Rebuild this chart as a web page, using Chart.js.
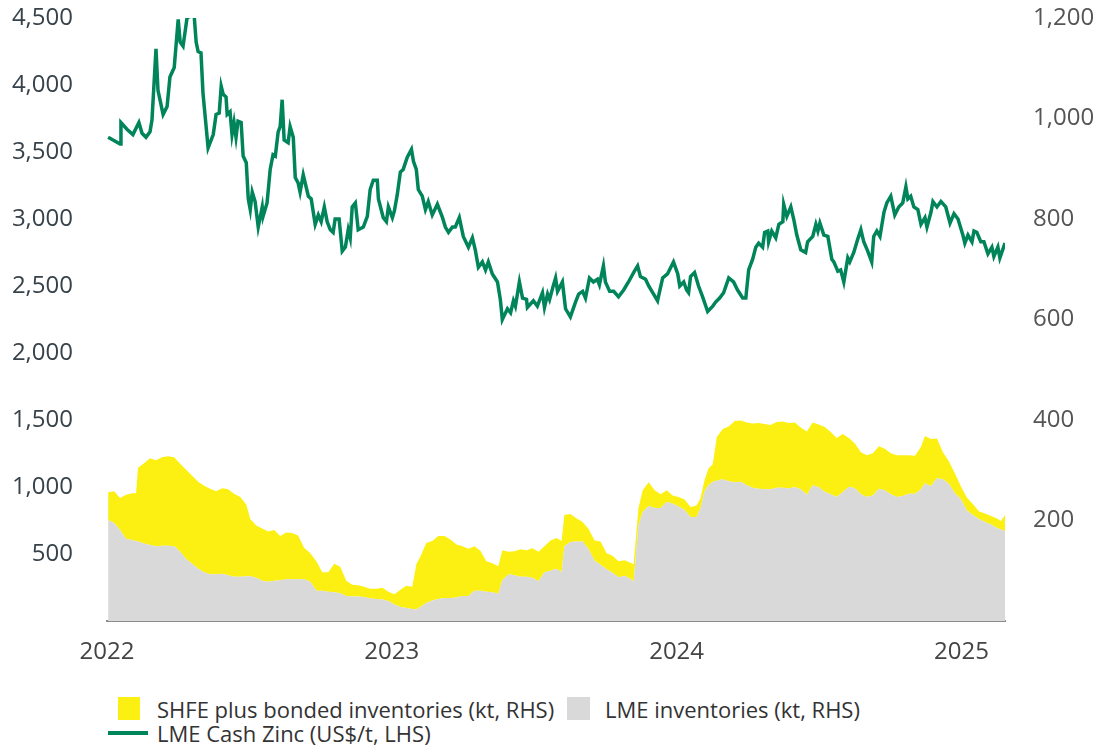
<!DOCTYPE html>
<html>
<head>
<meta charset="utf-8">
<script src="https://cdn.jsdelivr.net/npm/chart.js@4.4.1/dist/chart.umd.min.js"></script>
<style>
  body { margin: 0; background: #fff; font-family: "Open Sans", sans-serif; }
  #wrap { position: relative; width: 1096px; height: 745px; }
  #box { position: absolute; left: 0; top: 0; width: 1096px; height: 690px; }
  .leg { position: absolute; font-size: 22px; color: #333; line-height: 24px; white-space: nowrap; }
  .sw { position: absolute; }
</style>
</head>
<body>
<div id="wrap">
  <div id="box"><canvas id="zinc"></canvas></div>
  <div id="legend"></div>
</div>
<script>
// LME cash zinc, US$/t (left axis); dates as decimal years
const priceDates = [
  2022.004, 2022.046, 2022.049, 2022.070, 2022.091, 2022.112, 2022.123, 2022.137, 2022.151, 2022.158,
  2022.172, 2022.179, 2022.197, 2022.211, 2022.221, 2022.236, 2022.250, 2022.257, 2022.267, 2022.281,
  2022.299, 2022.306, 2022.313, 2022.320, 2022.330, 2022.337, 2022.355, 2022.373, 2022.383, 2022.394,
  2022.401, 2022.408, 2022.418, 2022.422, 2022.432, 2022.439, 2022.446, 2022.453, 2022.460, 2022.471,
  2022.478, 2022.489, 2022.496, 2022.503, 2022.510, 2022.520, 2022.531, 2022.545, 2022.548, 2022.562,
  2022.573, 2022.583, 2022.591, 2022.601, 2022.608, 2022.615, 2022.622, 2022.636, 2022.643, 2022.654,
  2022.661, 2022.671, 2022.678, 2022.689, 2022.707, 2022.717, 2022.731, 2022.742, 2022.752, 2022.763,
  2022.773, 2022.784, 2022.794, 2022.801, 2022.815, 2022.826, 2022.837, 2022.847, 2022.854, 2022.861,
  2022.872, 2022.882, 2022.900, 2022.914, 2022.924, 2022.935, 2022.949, 2022.953, 2022.970, 2022.981,
  2022.988, 2023.002, 2023.009, 2023.019, 2023.030, 2023.040, 2023.054, 2023.069, 2023.076, 2023.086,
  2023.093, 2023.107, 2023.118, 2023.128, 2023.142, 2023.160, 2023.178, 2023.188, 2023.199, 2023.213,
  2023.223, 2023.237, 2023.251, 2023.269, 2023.283, 2023.293, 2023.304, 2023.318, 2023.329, 2023.339,
  2023.353, 2023.371, 2023.381, 2023.388, 2023.406, 2023.417, 2023.427, 2023.434, 2023.448, 2023.459,
  2023.473, 2023.476, 2023.497, 2023.511, 2023.529, 2023.536, 2023.547, 2023.554, 2023.568, 2023.575,
  2023.582, 2023.599, 2023.610, 2023.627, 2023.645, 2023.656, 2023.670, 2023.680, 2023.694, 2023.708,
  2023.722, 2023.729, 2023.743, 2023.750, 2023.765, 2023.779, 2023.796, 2023.814, 2023.831, 2023.849,
  2023.863, 2023.873, 2023.891, 2023.902, 2023.916, 2023.933, 2023.951, 2023.968, 2023.989, 2024.004,
  2024.011, 2024.025, 2024.035, 2024.042, 2024.049, 2024.063, 2024.077, 2024.091, 2024.109, 2024.127,
  2024.137, 2024.151, 2024.165, 2024.183, 2024.200, 2024.214, 2024.232, 2024.243, 2024.253, 2024.267,
  2024.278, 2024.288, 2024.302, 2024.309, 2024.320, 2024.323, 2024.334, 2024.348, 2024.359, 2024.373,
  2024.376, 2024.387, 2024.401, 2024.411, 2024.422, 2024.436, 2024.453, 2024.460, 2024.478, 2024.489,
  2024.496, 2024.503, 2024.517, 2024.531, 2024.545, 2024.552, 2024.566, 2024.576, 2024.587, 2024.601,
  2024.608, 2024.622, 2024.636, 2024.647, 2024.657, 2024.671, 2024.685, 2024.692, 2024.703, 2024.714,
  2024.728, 2024.738, 2024.752, 2024.766, 2024.780, 2024.794, 2024.805, 2024.812, 2024.822, 2024.833,
  2024.847, 2024.858, 2024.872, 2024.879, 2024.893, 2024.900, 2024.914, 2024.928, 2024.945, 2024.960,
  2024.974, 2024.988, 2025.005, 2025.012, 2025.023, 2025.037, 2025.044, 2025.054, 2025.068, 2025.079,
  2025.093, 2025.107, 2025.114, 2025.128, 2025.135, 2025.153
];
const price = [
  3610, 3560, 3720, 3670, 3630, 3720, 3640, 3610, 3650, 3740,
  4270, 3960, 3780, 3840, 4060, 4130, 4490, 4320, 4290, 4500,
  4520, 4520, 4320, 4250, 4240, 3940, 3530, 3630, 3780, 3790,
  3990, 3930, 3910, 3780, 3800, 3630, 3720, 3610, 3730, 3720,
  3470, 3420, 3150, 3070, 3200, 3130, 2940, 3090, 3020, 3120,
  3370, 3480, 3470, 3650, 3690, 3890, 3590, 3570, 3690, 3610,
  3310, 3270, 3200, 3330, 3170, 3150, 2960, 3030, 2980, 3090,
  2980, 2920, 2900, 3000, 3000, 2760, 2790, 2920, 2860, 3090,
  3120, 2920, 2940, 3020, 3220, 3290, 3290, 3150, 3010, 2980,
  3090, 3010, 3060, 3180, 3350, 3370, 3460, 3520, 3430, 3370,
  3220, 3170, 3070, 3130, 3030, 3110, 3010, 2940, 2900, 2940,
  2940, 3010, 2870, 2790, 2860, 2770, 2640, 2680, 2620, 2680,
  2590, 2530, 2400, 2250, 2330, 2300, 2390, 2350, 2530, 2410,
  2400, 2340, 2390, 2350, 2450, 2340, 2440, 2400, 2510, 2560,
  2460, 2530, 2330, 2270, 2380, 2440, 2460, 2410, 2560, 2530,
  2550, 2510, 2650, 2530, 2460, 2460, 2420, 2470, 2530, 2600,
  2650, 2570, 2550, 2500, 2450, 2390, 2560, 2590, 2680, 2590,
  2500, 2530, 2470, 2450, 2570, 2600, 2500, 2420, 2310, 2350,
  2380, 2410, 2450, 2560, 2530, 2470, 2410, 2410, 2620, 2700,
  2790, 2820, 2790, 2900, 2910, 2830, 2910, 2860, 2960, 2980,
  3110, 3020, 3090, 3000, 2880, 2770, 2750, 2830, 2870, 2960,
  2910, 2970, 2880, 2870, 2700, 2680, 2610, 2620, 2530, 2710,
  2680, 2750, 2850, 2920, 2830, 2760, 2680, 2870, 2910, 2870,
  3050, 3120, 3170, 3030, 3090, 3120, 3240, 3150, 3170, 3090,
  3070, 2960, 3010, 2940, 3050, 3130, 3090, 3130, 3090, 2970,
  3040, 3000, 2880, 2820, 2880, 2830, 2910, 2900, 2830, 2830,
  2740, 2790, 2720, 2790, 2710, 2820
];

// inventories, kt (right axis)
const stockDates = [
  2022.004, 2022.025, 2022.046, 2022.067, 2022.088, 2022.102, 2022.109, 2022.130, 2022.151, 2022.172,
  2022.193, 2022.214, 2022.236, 2022.257, 2022.278, 2022.299, 2022.320, 2022.341, 2022.362, 2022.383,
  2022.404, 2022.425, 2022.446, 2022.468, 2022.489, 2022.503, 2022.524, 2022.545, 2022.566, 2022.587,
  2022.608, 2022.629, 2022.650, 2022.671, 2022.692, 2022.714, 2022.735, 2022.756, 2022.777, 2022.798,
  2022.819, 2022.840, 2022.861, 2022.882, 2022.903, 2022.924, 2022.946, 2022.967, 2022.988, 2023.009,
  2023.030, 2023.051, 2023.072, 2023.086, 2023.100, 2023.121, 2023.142, 2023.163, 2023.185, 2023.206,
  2023.227, 2023.248, 2023.269, 2023.290, 2023.311, 2023.332, 2023.353, 2023.374, 2023.388, 2023.410,
  2023.431, 2023.452, 2023.473, 2023.494, 2023.515, 2023.536, 2023.557, 2023.578, 2023.596, 2023.606,
  2023.627, 2023.649, 2023.670, 2023.691, 2023.712, 2023.733, 2023.754, 2023.775, 2023.796, 2023.817,
  2023.838, 2023.849, 2023.866, 2023.881, 2023.902, 2023.923, 2023.944, 2023.965, 2023.986, 2024.007,
  2024.028, 2024.049, 2024.070, 2024.084, 2024.098, 2024.112, 2024.127, 2024.141, 2024.162, 2024.183,
  2024.204, 2024.225, 2024.246, 2024.267, 2024.288, 2024.309, 2024.330, 2024.351, 2024.373, 2024.394,
  2024.415, 2024.436, 2024.457, 2024.478, 2024.499, 2024.520, 2024.541, 2024.562, 2024.583, 2024.605,
  2024.626, 2024.647, 2024.668, 2024.689, 2024.710, 2024.731, 2024.752, 2024.773, 2024.794, 2024.816,
  2024.837, 2024.858, 2024.872, 2024.893, 2024.914, 2024.935, 2024.956, 2024.977, 2024.998, 2025.019,
  2025.040, 2025.062, 2025.083, 2025.104, 2025.125, 2025.139, 2025.153
];
const lmeStocks = [
  201, 195, 181, 163, 161, 159, 158, 154, 151, 149,
  150, 150, 149, 138, 123, 114, 104, 97, 93, 93,
  94, 91, 88, 88, 89, 89, 86, 80, 78, 80,
  81, 83, 83, 83, 83, 78, 60, 60, 58, 57,
  55, 50, 49, 49, 48, 45, 44, 43, 40, 33,
  28, 26, 24, 23, 28, 36, 41, 44, 46, 46,
  47, 50, 50, 60, 60, 58, 57, 54, 81, 93,
  91, 88, 88, 86, 79, 97, 100, 104, 97, 149,
  157, 158, 158, 143, 120, 112, 103, 96, 87, 90,
  84, 78, 190, 217, 229, 225, 225, 237, 234, 228,
  221, 207, 207, 225, 258, 270, 277, 279, 282, 278,
  276, 277, 270, 265, 263, 262, 262, 265, 265, 264,
  266, 262, 251, 270, 266, 257, 252, 247, 256, 267,
  264, 252, 247, 250, 263, 260, 252, 247, 249, 253,
  253, 262, 274, 268, 284, 282, 273, 254, 243, 220,
  211, 203, 197, 192, 185, 182, 179
];
const shfeStocks = [
  55, 63, 64, 88, 93, 95, 147, 160, 173, 171,
  176, 178, 177, 175, 178, 175, 173, 172, 170, 165,
  170, 171, 165, 159, 143, 114, 104, 104, 100, 101,
  88, 93, 92, 87, 63, 57, 59, 37, 39, 57,
  53, 30, 23, 22, 20, 19, 20, 23, 18, 20,
  34, 44, 44, 90, 100, 119, 118, 125, 123, 116,
  105, 99, 94, 89, 80, 61, 58, 55, 60, 45,
  48, 55, 53, 59, 59, 52, 60, 61, 62, 62,
  56, 46, 39, 40, 40, 46, 32, 34, 32, 31,
  32, 35, 35, 43, 47, 35, 27, 23, 16, 19,
  21, 20, 23, 20, 22, 34, 35, 87, 100, 109,
  122, 122, 125, 128, 131, 130, 128, 131, 132, 130,
  129, 123, 126, 125, 125, 129, 124, 117, 116, 97,
  89, 84, 83, 84, 85, 83, 82, 83, 81, 77,
  76, 85, 94, 94, 79, 54, 45, 40, 25, 26,
  22, 15, 17, 17, 19, 17, 32
];

const yearTicks = [2022, 2023, 2024, 2025];
const labels = {
  shfe: 'SHFE plus bonded inventories (kt, RHS)',
  lme: 'LME inventories (kt, RHS)',
  price: 'LME Cash Zinc (US$/t, LHS)'
};
const colours = { shfe: '#fbf012', lme: '#d9d9d9', price: '#00845a' };

const toPoints = (xs, ys) => xs.map((x, i) => ({ x: x, y: ys[i] }));
const fmt = v => v === 0 ? '' : v.toLocaleString('en-US');
const tickFont = { family: 'Open Sans', size: 24 };

new Chart(document.getElementById('zinc'), {
  type: 'line',
  data: {
    datasets: [{
      label: labels.price,
      data: toPoints(priceDates, price),
      yAxisID: 'y',
      borderColor: colours.price,
      borderWidth: 3.5,
      pointRadius: 0,
      fill: false,
      tension: 0
    }, {
      label: labels.lme,
      data: toPoints(stockDates, lmeStocks),
      yAxisID: 'y2',
      backgroundColor: colours.lme,
      borderWidth: 0,
      pointRadius: 0,
      fill: 'origin'
    }, {
      label: labels.shfe,
      data: toPoints(stockDates, shfeStocks),
      yAxisID: 'y2',
      backgroundColor: colours.shfe,
      borderWidth: 0,
      pointRadius: 0,
      fill: '-1'
    }]
  },
  options: {
    responsive: true,
    maintainAspectRatio: false,
    animation: false,
    layout: { padding: { top: 18, left: 0, right: 0, bottom: 0 } },
    plugins: { legend: { display: false }, tooltip: { enabled: false } },
    scales: {
      x: {
        type: 'linear',
        min: 2022,
        max: 2025.153,
        // grid hidden; tickLength only spaces the labels off the axis
        grid: { display: false, drawTicks: true, tickLength: 17 },
        border: { display: true, color: '#8c8c8c', width: 2 },
        afterBuildTicks: s => { s.ticks = yearTicks.map(v => ({ value: v })); },
        afterFit: s => { s.height = 69; },
        ticks: {
          autoSkip: false,
          maxRotation: 0,
          padding: 0,
          color: '#444',
          font: tickFont,
          callback: v => String(v)
        }
      },
      y: {
        position: 'left',
        min: 0,
        max: 4500,
        grid: { display: false, drawTicks: true, tickLength: 34 },
        border: { display: false },
        afterFit: s => { s.width = 107; },
        ticks: { stepSize: 500, padding: 0, color: '#37424a', font: tickFont, callback: fmt }
      },
      y2: {
        position: 'right',
        min: 0,
        max: 1200,
        stacked: true,
        grid: { display: false, drawTicks: true, tickLength: 28 },
        border: { display: false },
        afterFit: s => { s.width = 91; },
        ticks: { stepSize: 200, padding: 0, color: '#555', font: tickFont, callback: fmt }
      }
    }
  }
});

// legend below the plot
const legend = document.getElementById('legend');
function addItem(html) { legend.insertAdjacentHTML('beforeend', html); }
addItem('<div class="sw" style="left:118px;top:697px;width:22px;height:23px;background:' + colours.shfe + '"></div>');
addItem('<div class="leg" style="left:157px;top:697px">' + labels.shfe + '</div>');
addItem('<div class="sw" style="left:567px;top:697px;width:23px;height:23px;background:' + colours.lme + '"></div>');
addItem('<div class="leg" style="left:605px;top:697px">' + labels.lme + '</div>');
addItem('<div class="sw" style="left:108px;top:731px;width:40px;height:4px;background:' + colours.price + '"></div>');
addItem('<div class="leg" style="left:157px;top:721px">' + labels.price + '</div>');
</script>
</body>
</html>
